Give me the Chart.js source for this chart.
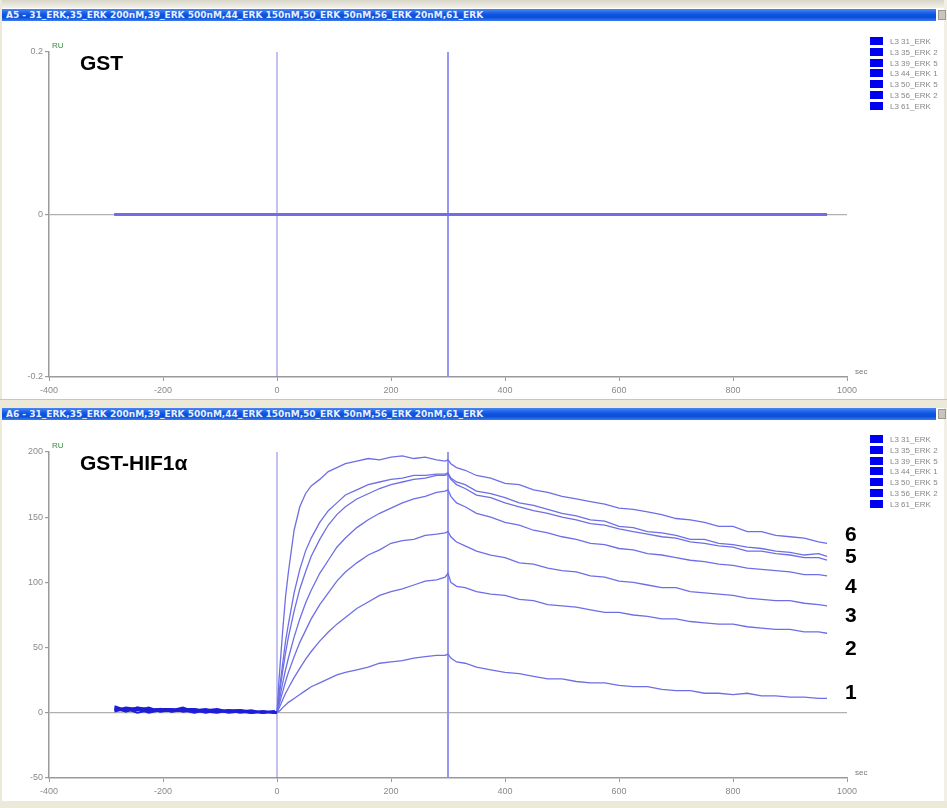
<!DOCTYPE html>
<html>
<head>
<meta charset="utf-8">
<script src="https://cdn.jsdelivr.net/npm/chart.js@4"></script>
<style>
  body { margin: 0; width: 947px; height: 808px; background: #fff; position: relative; overflow: hidden;
         font-family: "Liberation Sans", Arial, sans-serif; }
  .strip { position: absolute; left: 0; width: 947px; background: #ece9d8; }
  .titlebar { position: absolute; left: 2px; width: 934px; height: 12px;
              background: linear-gradient(#4a86f2, #0d55e3 45%, #0a4fd8 70%, #3d7bee);
              color: #e8f0ff; font: bold 9px "DejaVu Sans", sans-serif; line-height: 12px;
              padding-left: 4px; box-sizing: border-box; white-space: nowrap; overflow: hidden; }
  .tb-icon { position: absolute; left: 938px; width: 8px; height: 10px; background: #c8c6bc; border: 1px solid #9c9a90; box-sizing: border-box; }
  .panel { position: absolute; left: 0; width: 947px; }
  .big { position: absolute; font: bold 21px "Liberation Sans", Arial, sans-serif; color: #000; }
  .legend { position: absolute; left: 870px; font: 8px "Liberation Sans", Arial, sans-serif; color: #888; }
  .legend div { height: 10.8px; line-height: 10.8px; white-space: nowrap; }
  .legend span { display: inline-block; width: 13px; height: 8px; background: #0000f0; margin-right: 7px; vertical-align: -1px; }
</style>
</head>
<body>
<div class="strip" style="top:0;height:8px;background:linear-gradient(#d8d5c8,#f4f2ea)"></div>
<div class="strip" style="top:0;left:0;width:2px;height:808px"></div>
<div class="strip" style="top:0;left:944px;width:3px;height:808px;background:#f1efe6"></div>
<div class="titlebar" style="top:9px">A5 - 31_ERK,35_ERK 200nM,39_ERK 500nM,44_ERK 150nM,50_ERK 50nM,56_ERK 20nM,61_ERK</div>
<div class="tb-icon" style="top:10px"></div>

<div class="panel" style="top:22px;height:377px"><canvas id="gstChart"></canvas></div>
<div class="big" style="left:80px;top:51px">GST</div>
<div class="legend" id="legendTop" style="top:37px"></div>

<div class="strip" style="top:399px;height:9px;border-top:1px solid #c9c6b8;box-sizing:border-box"></div>
<div class="titlebar" style="top:408px">A6 - 31_ERK,35_ERK 200nM,39_ERK 500nM,44_ERK 150nM,50_ERK 50nM,56_ERK 20nM,61_ERK</div>
<div class="tb-icon" style="top:409px"></div>

<div class="panel" style="top:422px;height:378px"><canvas id="hifChart"></canvas></div>
<div class="big" style="left:80px;top:451px">GST-HIF1α</div>
<div class="legend" id="legendBottom" style="top:435px"></div>
<div class="strip" style="top:801px;height:7px"></div>

<script>
// sensorgram data (RU vs seconds)
const legendNames = ['L3 31_ERK', 'L3 35_ERK 2', 'L3 39_ERK 5', 'L3 44_ERK 1', 'L3 50_ERK 5', 'L3 56_ERK 2', 'L3 61_ERK'];
const injectionTimes = [0, 300];

// GST surface: flat at 0 for all curves
const gstTime = [-285, 0, 300, 965];
const gstRU = [0, 0, 0, 0];

// GST-HIF1a surface
const timeSec = [-285, -265, -245, -225, -205, -185, -165, -145, -125, -105, -85, -65, -45, -25, -5, 0,
  3, 6, 10, 15, 20, 30, 40, 50, 60, 75, 90, 105, 120, 140, 160, 180, 200, 220, 240, 260, 280, 295, 300,
  305, 315, 330, 350, 375, 400, 425, 450, 475, 500, 525, 550, 575, 600, 625, 650, 675, 700, 725, 750, 775,
  800, 825, 850, 875, 900, 925, 950, 965];

const curve1 = [2, 4, 3, 1, 3, 1, 2, 3, 1, 2, 0, 1, 2, 0, 1, 0,
  1, 2, 4, 6, 8, 11, 14, 17, 20, 23, 26, 29, 31, 33, 35, 38, 39, 40, 42, 43, 44, 44, 45,
  42, 39, 38, 35, 33, 31, 30, 28, 26, 26, 24, 23, 23, 21, 20, 20, 18, 17, 17, 15, 15, 14, 15, 13, 13, 12, 12, 11, 11];
const curve2 = [4, 1, 3, 0, 2, 3, 1, 2, 3, 1, 1, 2, 1, 0, 1, 0,
  3, 6, 10, 15, 19, 27, 34, 41, 47, 55, 62, 68, 73, 80, 85, 90, 93, 95, 98, 101, 102, 104, 107,
  100, 97, 96, 93, 91, 90, 87, 86, 83, 82, 81, 79, 77, 77, 75, 74, 72, 72, 70, 69, 68, 68, 66, 65, 64, 64, 62, 62, 61];
const curve3 = [1, 3, 0, 2, 3, 1, 2, 0, 2, 1, 2, 2, 0, 1, 0, 0,
  5, 10, 16, 24, 31, 43, 54, 63, 72, 83, 92, 101, 108, 115, 121, 125, 130, 132, 133, 136, 137, 138, 139,
  135, 131, 128, 124, 121, 119, 115, 114, 111, 109, 108, 105, 104, 101, 100, 98, 96, 96, 93, 92, 91, 90, 88, 87, 86, 86, 84, 83, 82];
const curve4 = [3, 2, 4, 3, 1, 2, 3, 3, 1, 0, 2, 1, 0, 1, 0, 0,
  7, 14, 23, 33, 42, 58, 72, 84, 94, 107, 117, 127, 134, 142, 148, 153, 157, 161, 164, 166, 169, 170, 171,
  166, 161, 158, 153, 150, 146, 144, 140, 138, 135, 133, 130, 129, 126, 125, 122, 121, 119, 117, 116, 114, 113, 111, 110, 109, 108, 106, 106, 105];
const curve5 = [2, 3, 2, 4, 1, 2, 4, 1, 2, 3, 1, 1, 0, 1, 1, 0,
  12, 24, 38, 55, 68, 92, 110, 124, 134, 146, 155, 161, 167, 171, 175, 177, 179, 180, 182, 182, 183, 183, 184,
  180, 177, 175, 170, 168, 165, 161, 159, 156, 153, 151, 148, 147, 143, 142, 139, 138, 136, 133, 133, 130, 129, 127, 126, 124, 123, 121, 122, 120];
const curve5b = [5, 2, 3, 2, 3, 3, 1, 2, 0, 2, 1, 2, 1, 0, 1, 0,
  10, 20, 32, 46, 58, 78, 95, 108, 120, 133, 144, 152, 158, 164, 168, 172, 175, 177, 179, 180, 182, 182, 183,
  179, 175, 172, 167, 165, 161, 158, 155, 153, 150, 148, 145, 144, 141, 139, 137, 135, 134, 131, 130, 128, 127, 124, 124, 122, 121, 119, 119, 117];
const curve6 = [3, 1, 4, 2, 3, 1, 3, 2, 2, 1, 2, 0, 1, 1, 0, 0,
  22, 40, 63, 89, 108, 140, 158, 168, 174, 179, 185, 188, 191, 193, 195, 194, 196, 197, 195, 196, 194, 193, 194,
  191, 188, 186, 182, 180, 176, 175, 171, 169, 166, 164, 162, 160, 157, 156, 154, 152, 149, 148, 146, 143, 143, 139, 139, 136, 135, 134, 131, 130];

const endLabels = ['6', '5', '4', '3', '2', '1'];
const endLabelRU = [136, 119, 96, 74, 49, 15];

const CURVE = '#6e6ee6';
const BASE = '#1e1ed8';
const AXIS = '#9a9a9a';

function xy(xs, ys) {
  return xs.map((x, i) => ({ x: x, y: ys[i] }));
}

function markLines(yMin, yMax) {
  return injectionTimes.map((t, i) => ({
    data: [{ x: t, y: yMin }, { x: t, y: yMax }],
    borderColor: i === 0 ? 'rgba(120,120,225,0.9)' : 'rgba(140,140,238,0.9)',
    borderWidth: i === 0 ? 1 : 2
  }));
}

// axis captions + curve numbers
const captionPlugin = {
  id: 'captions',
  afterDraw(chart, args, opts) {
    const { ctx, chartArea } = chart;
    ctx.save();
    ctx.fillStyle = '#3a8a3a';
    ctx.font = '8px "Liberation Sans", Arial';
    ctx.textAlign = 'left';
    ctx.textBaseline = 'bottom';
    ctx.fillText('RU', chartArea.left + 3, chartArea.top - 2);
    ctx.fillStyle = '#777';
    ctx.fillText('sec', chartArea.right + 8, chartArea.bottom - 1);
    if (opts.labels) {
      const yScale = chart.scales.y;
      ctx.fillStyle = '#000';
      ctx.font = 'bold 21px "Liberation Sans", Arial';
      ctx.textBaseline = 'middle';
      opts.labels.forEach((lab, i) => {
        ctx.fillText(lab, chartArea.right - 2, yScale.getPixelForValue(opts.values[i]));
      });
    }
    ctx.restore();
  }
};

function makeOptions(yMin, yMax, yStep, yFmt, labelOpts) {
  return {
    responsive: true,
    maintainAspectRatio: false,
    animation: false,
    layout: { padding: { left: 9, right: 100, top: 30, bottom: 0 } },
    elements: { point: { radius: 0 }, line: { tension: 0 } },
    plugins: { legend: { display: false }, tooltip: { enabled: false }, captions: labelOpts },
    scales: {
      x: {
        type: 'linear', min: -400, max: 1000,
        afterFit: s => { s.height = 22; },
        ticks: { stepSize: 200, color: '#8a8a8a', font: { size: 9 }, padding: 4, callback: v => String(v) },
        grid: { drawOnChartArea: false, tickColor: AXIS, tickLength: 4 },
        border: { color: AXIS, width: 1.5 }
      },
      y: {
        min: yMin, max: yMax,
        afterFit: s => { s.width = 40; },
        ticks: { stepSize: yStep, color: '#8a8a8a', font: { size: 9 }, padding: 2, callback: yFmt },
        grid: {
          color: c => (Math.abs(c.tick.value) < 1e-9 ? '#b0b0b0' : 'transparent'),
          lineWidth: 1.2, tickColor: AXIS, tickLength: 4
        },
        border: { color: AXIS, width: 1.5 }
      }
    }
  };
}

// top panel: GST
const gstSets = legendNames.map(name => ({
  label: name,
  data: xy(gstTime, gstRU),
  borderColor: CURVE,
  borderWidth: 2
}));
new Chart(document.getElementById('gstChart'), {
  type: 'scatter',
  data: { datasets: gstSets.concat(markLines(-0.2, 0.2)).map(d => Object.assign({ showLine: true }, d)) },
  options: makeOptions(-0.2, 0.2, 0.2, v => (Math.abs(v) < 1e-9 ? '0' : v.toFixed(1)), {}),
  plugins: [captionPlugin]
});

// bottom panel: GST-HIF1a
const hifCurves = [curve1, curve2, curve3, curve4, curve5, curve5b, curve6];
const hifSets = hifCurves.map((vals, i) => ({
  label: legendNames[i],
  data: xy(timeSec, vals),
  borderColor: CURVE,
  borderWidth: 1.3,
  segment: {
    borderColor: c => (c.p1.parsed.x <= 0 ? BASE : CURVE),
    borderWidth: c => (c.p1.parsed.x <= 0 ? 2 : 1.3)
  }
}));
new Chart(document.getElementById('hifChart'), {
  type: 'scatter',
  data: { datasets: hifSets.concat(markLines(-50, 200)).map(d => Object.assign({ showLine: true }, d)) },
  options: makeOptions(-50, 200, 50, v => String(v), { labels: endLabels, values: endLabelRU }),
  plugins: [captionPlugin]
});

// legend boxes
['legendTop', 'legendBottom'].forEach(id => {
  const box = document.getElementById(id);
  legendNames.forEach(name => {
    const row = document.createElement('div');
    row.innerHTML = '<span></span>' + name;
    box.appendChild(row);
  });
});
</script>
</body>
</html>
